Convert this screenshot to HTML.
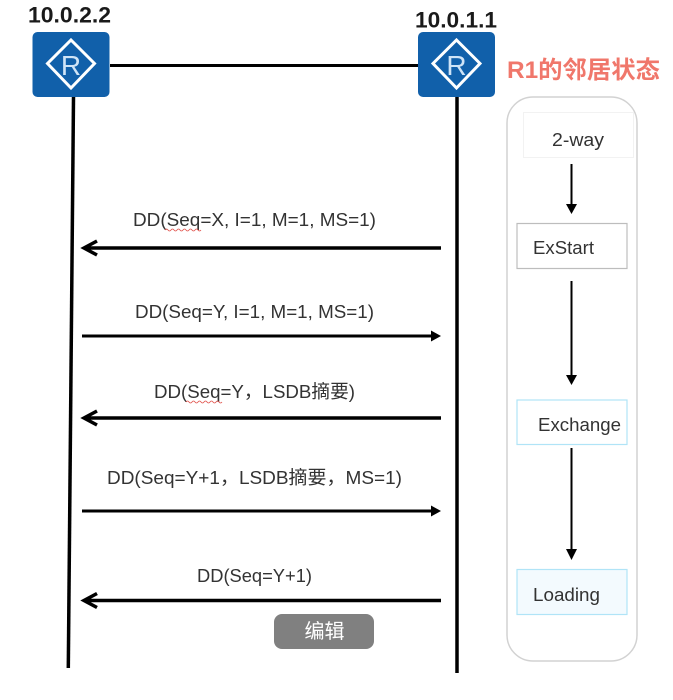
<!DOCTYPE html>
<html><head><meta charset="utf-8"><style>
html,body{margin:0;padding:0;background:#fff;width:673px;height:700px;overflow:hidden}
svg{display:block;filter:blur(.35px)}
text{font-family:"Liberation Sans","Noto Sans CJK SC",sans-serif}
.m{font-size:18.5px;fill:#333}
.h{font-size:22.5px;font-weight:bold;fill:#1a1a1a}
</style></head><body>
<svg width="673" height="700" viewBox="0 0 673 700" xmlns="http://www.w3.org/2000/svg">
<defs>
<g id="r">
<rect x="0" y="0" width="77" height="65" rx="5" fill="#1160aa"/>
<path d="M38.500 8L62 31.500L38.500 56L15 31.500z" fill="none" stroke="#fff" stroke-width="3"/>
<text x="38.500" y="43" text-anchor="middle" font-size="28" fill="#cfe4f7">R</text>
</g>
</defs>
<use href="#r" x="32.5" y="32"/>
<use href="#r" x="418" y="32"/>
<text class="h" x="28" y="22.500" textLength="83" lengthAdjust="spacingAndGlyphs">10.0.2.2</text>
<text class="h" x="415" y="27.500" textLength="82" lengthAdjust="spacingAndGlyphs">10.0.1.1</text>
<path d="M110 65.5H418" stroke="#000" stroke-width="3"/>
<path d="M73.5 97L68.3 668" stroke="#000" stroke-width="3.5" fill="none"/>
<path d="M457 97V673" stroke="#000" stroke-width="3.5" fill="none"/>

<g fill="none" stroke="#000" stroke-width="3.5">
<path d="M441 248H84M97 241L84 248L97 255"/>
<path d="M441 418H84M97 411L84 418L97 425"/>
<path d="M441 600.500H84M97 593.500L84 600.500L97 607.500"/>
</g>
<path d="M82 336H432" stroke="#000" stroke-width="3"/><path d="M431 330.500L441 336L431 341.500z"/>
<path d="M82 511H432" stroke="#000" stroke-width="3"/><path d="M431 505.500L441 511L431 516.500z"/>

<text class="m" x="133" y="226" textLength="243" lengthAdjust="spacingAndGlyphs">DD(Seq=X, I=1, M=1, MS=1)</text>
<text class="m" x="135" y="318" textLength="239" lengthAdjust="spacingAndGlyphs">DD(Seq=Y, I=1, M=1, MS=1)</text>
<text class="m" x="154" y="398" textLength="201" lengthAdjust="spacingAndGlyphs">DD(Seq=Y，LSDB摘要)</text>
<text class="m" x="107" y="484" textLength="295" lengthAdjust="spacingAndGlyphs">DD(Seq=Y+1，LSDB摘要，MS=1)</text>
<text class="m" x="197" y="582" textLength="115" lengthAdjust="spacingAndGlyphs">DD(Seq=Y+1)</text>

<g fill="none" stroke="#e0504a" stroke-width="0.8">
<path d="M165 230q1.500 -2 3 0t3 0t3 0t3 0t3 0t3 0t3 0t3 0t3 0t3 0t3 0t3 0"/>
<path d="M186 402q1.500 -2 3 0t3 0t3 0t3 0t3 0t3 0t3 0t3 0t3 0t3 0t3 0t3 0"/>
<path d="M533 257.500q1.500 -2 3 0t3 0t3 0t3 0t3 0t3 0t3 0t3 0t3 0t3 0t3 0t3 0t3 0t3 0t3 0t3 0t3 0t3 0t3 0t3 0t3 0"/>
</g>

<rect x="274" y="614" width="100" height="35" rx="8" fill="#808080"/>
<text x="324.500" y="638" text-anchor="middle" font-size="20" fill="#fff">编辑</text>

<text x="507" y="78" font-size="24" font-weight="bold" fill="#f0776b" textLength="153" lengthAdjust="spacingAndGlyphs">R1的邻居状态</text>

<rect x="507" y="97" width="130" height="564" rx="26" fill="#fff" stroke="#d2d2d2" stroke-width="1.500"/>
<rect x="523.500" y="112.500" width="110" height="45" fill="#fff" stroke="#f2f2f2"/>
<rect x="517" y="223.500" width="110" height="45" fill="#fff" stroke="#bdbdbd" stroke-width="1.200"/>
<rect x="517" y="400" width="110" height="44.500" fill="#fff" stroke="#b0e4f7" stroke-width="1.200"/>
<rect x="517" y="569.500" width="110" height="45" fill="#f3fafe" stroke="#b0e4f7" stroke-width="1.200"/>

<text class="m" x="552" y="146" textLength="52" lengthAdjust="spacingAndGlyphs">2-way</text>
<text class="m" x="533" y="254" textLength="61" lengthAdjust="spacingAndGlyphs">ExStart</text>
<text class="m" x="538" y="431" textLength="83" lengthAdjust="spacingAndGlyphs">Exchange</text>
<text class="m" x="533" y="601" textLength="67" lengthAdjust="spacingAndGlyphs">Loading</text>

<g stroke="#000" stroke-width="2">
<path d="M571.500 164V205"/><path d="M571.500 281V376"/><path d="M571.500 448V551"/>
</g>
<path d="M566 204H577L571.500 214z"/>
<path d="M566 375H577L571.500 385z"/>
<path d="M566 549H577L571.500 560z"/>
</svg>
</body></html>
